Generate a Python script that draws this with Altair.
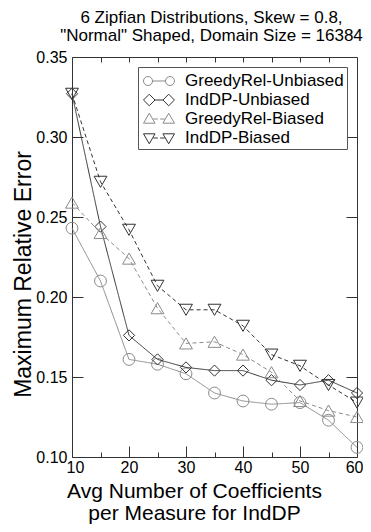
import altair as alt
import pandas as pd

# ---- data ----
x_vals = [10, 15, 20, 25, 30, 35, 40, 45, 50, 55, 60]
series_names = ["GreedyRel-Unbiased", "IndDP-Unbiased", "GreedyRel-Biased", "IndDP-Biased"]
greedy_unbiased = [0.243, 0.210, 0.161, 0.158, 0.152, 0.140, 0.135, 0.133, 0.134, 0.123, 0.106]
inddp_unbiased = [0.327, 0.244, 0.176, 0.161, 0.156, 0.154, 0.154, 0.148, 0.145, 0.148, 0.140]
greedy_biased = [0.259, 0.240, 0.224, 0.193, 0.171, 0.172, 0.164, 0.153, 0.135, 0.129, 0.125]
inddp_biased = [0.327, 0.272, 0.242, 0.207, 0.192, 0.192, 0.182, 0.164, 0.157, 0.145, 0.134]

x_major = [10, 20, 30, 40, 50, 60]
x_minor = [15, 25, 35, 45, 55]
x_top = [15, 20, 25, 30, 35, 40, 45, 50, 55]
y_ticks = [0.10, 0.15, 0.20, 0.25, 0.30, 0.35]
y_right = [0.15, 0.20, 0.25, 0.30]

title_lines = ["6 Zipfian Distributions, Skew = 0.8,", '"Normal" Shaped, Domain Size = 16384']
x_title = ["Avg Number of Coefficients", "per Measure for IndDP"]
y_title = "Maximum Relative Error"

# ---- styles ----
series_colors = ["#8a8a8a", "#333333", "#8a8a8a", "#333333"]
series_dashes = [[1, 0], [1, 0], [4, 3], [4, 3]]
series_shapes = ["circle", "diamond", "triangle-up", "triangle-down"]
series_sizes = [140, 125, 165, 165]
FONT = "Liberation Sans"

# legend glyphs: marker - line - marker (unit = sqrt(symbolSize)/2 px)
legend_paths = [
    "M -0.81 0 A 0.43 0.43 0 1 1 0.05 0 A 0.43 0.43 0 1 1 -0.81 0 "
    "M 0.05 0 L 1.28 0 "
    "M 1.28 0 A 0.43 0.43 0 1 1 2.14 0 A 0.43 0.43 0 1 1 1.28 0",
    "M -0.81 0 L -0.26 -0.55 L 0.29 0 L -0.26 0.55 Z "
    "M 0.29 0 L 1.04 0 "
    "M 1.04 0 L 1.59 -0.55 L 2.14 0 L 1.59 0.55 Z",
    "M -0.26 -0.55 L 0.29 0.4 L -0.81 0.4 Z "
    "M 0.12 0 L 0.55 0 M 0.78 0 L 1.21 0 "
    "M 1.59 -0.55 L 2.14 0.4 L 1.04 0.4 Z",
    "M -0.26 0.55 L 0.29 -0.4 L -0.81 -0.4 Z "
    "M 0.12 0 L 0.55 0 M 0.78 0 L 1.21 0 "
    "M 1.59 0.55 L 2.14 -0.4 L 1.04 -0.4 Z",
]

values_by_series = [greedy_unbiased, inddp_unbiased, greedy_biased, inddp_biased]
rows = []
for name, vals in zip(series_names, values_by_series):
    for xv, yv in zip(x_vals, vals):
        rows.append({"series": name, "x": xv, "y": yv})
df = pd.DataFrame(rows)

x_scale = alt.Scale(domain=[10, 60], nice=False, zero=False)
y_scale = alt.Scale(domain=[0.10, 0.35], nice=False, zero=False)

base = alt.Chart(df)

main_x_axis = alt.Axis(
    orient="bottom", values=x_major, format="d", tickSize=11, offset=-11,
    domain=False, labelPadding=2, labelFlush=True, labelFlushOffset=6, title=x_title,
    titleFont=FONT, titleFontSize=21, titleFontWeight="normal",
    titleLineHeight=22, titleBaseline="alphabetic", titleY=51, titleX=122,
    titleAlign="center")
main_y_axis = alt.Axis(
    orient="left", values=y_ticks, format=".2f", tickSize=11, offset=-11,
    domain=False, labelPadding=5, labelFlush=False, title=y_title,
    titleFont=FONT, titleFontSize=23, titleFontWeight="normal",
    titleBaseline="alphabetic", titleAngle=270, titleX=-53, titleY=217,
    titleAlign="center")
top_axis = alt.Axis(orient="top", values=x_top, tickSize=5, offset=-5, labels=False,
                    domain=False, title=None)
minor_axis = alt.Axis(orient="bottom", values=x_minor, tickSize=5, offset=-5,
                      labels=False, domain=False, title=None)
right_axis = alt.Axis(orient="right", values=y_right, tickSize=11, offset=-11,
                      labels=False, domain=False, title=None)

layers = []
for i, name in enumerate(series_names):
    sub = base.transform_filter(alt.datum.series == name)
    line = sub.mark_line(
        strokeWidth=1, color=series_colors[i], strokeDash=series_dashes[i]
    ).encode(
        x=alt.X("x:Q", scale=x_scale, axis=main_x_axis if i == 0 else None),
        y=alt.Y("y:Q", scale=y_scale, axis=main_y_axis if i == 0 else None),
    )
    pts = sub.mark_point(
        shape=series_shapes[i], filled=False, size=series_sizes[i], strokeWidth=1,
        opacity=1, color=series_colors[i]
    ).encode(
        x=alt.X("x:Q", scale=x_scale, axis=top_axis if i == 0 else None),
        y=alt.Y("y:Q", scale=y_scale, axis=None),
    )
    layers += [line, pts]

legend_props = dict(
    title=None, orient="top-right", offset=10, strokeColor="#555555", fillColor="white",
    padding=3, rowPadding=0, labelFont=FONT, labelFontSize=17, labelColor="black",
    labelOffset=22, labelLimit=0, symbolSize=441, symbolStrokeWidth=1, symbolOpacity=1,
    labelBaseline="middle",
)

# legend carrier (draws no data) + minor bottom ticks + right ticks
legend_layer = base.transform_filter("false").mark_point(
    filled=False, opacity=1, strokeWidth=1
).encode(
    x=alt.X("x:Q", scale=x_scale, axis=minor_axis),
    y=alt.Y("y:Q", scale=y_scale, axis=right_axis),
    color=alt.Color("series:N", scale=alt.Scale(domain=series_names, range=series_colors),
                    legend=alt.Legend(**legend_props)),
    shape=alt.Shape("series:N", scale=alt.Scale(domain=series_names, range=legend_paths),
                    legend=alt.Legend(**legend_props)),
)
layers.append(legend_layer)

chart = alt.layer(*layers).resolve_axis(
    x="independent", y="independent"
).properties(
    width=285, height=400,
    title=alt.Title(title_lines, font=FONT, fontSize=17, fontWeight="normal",
                    lineHeight=18, anchor="middle", offset=4, color="black", dx=-3),
    autosize=alt.AutoSizeParams(type="none"),
    padding={"left": 64, "top": 49, "right": 6, "bottom": 67},
).configure_view(
    stroke="#333333", strokeWidth=1
).configure_axis(
    grid=False, tickColor="#333333", tickWidth=1, labelFont=FONT, labelFontSize=16,
    labelColor="black", titleColor="black",
)

chart.save("out.html", embed_options={"renderer": "svg", "actions": False})
